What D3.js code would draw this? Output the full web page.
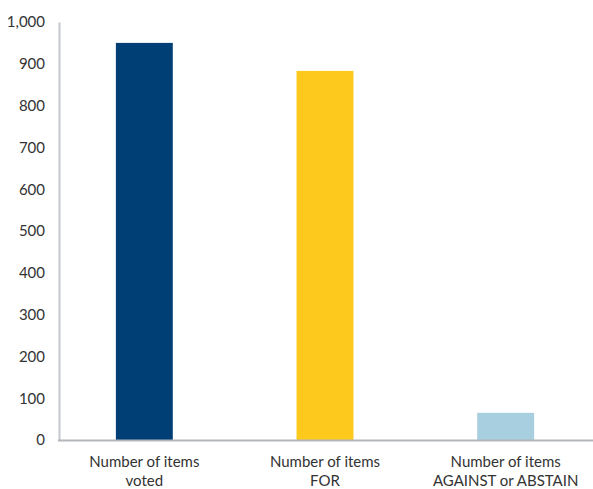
<!DOCTYPE html>
<html>
<head>
<meta charset="utf-8">
<script src="https://cdn.jsdelivr.net/npm/d3@7"></script>
<style>
  body { margin: 0; background: #fff; }
  text { font-family: Lato, "Open Sans", sans-serif; fill: #333; }
</style>
</head>
<body>
<svg width="593" height="489"></svg>
<script>
var categories = ["voted", "FOR", "AGAINST or ABSTAIN"];
var values = [950, 883, 65];
var colors = ["#003f76", "#fdc91c", "#a8cfdf"];
var yTicks = [0, 100, 200, 300, 400, 500, 600, 700, 800, 900, 1000];

var svg = d3.select("svg");

var x = d3.scaleBand()
    .domain(categories)
    .range([54, 596])
    .paddingInner(0.685)
    .paddingOuter(0.3425);

var y = d3.scaleLinear()
    .domain([0, 1000])
    .range([440, 22]);

// y axis
var yAxis = svg.append("g")
    .attr("transform", "translate(59,0)")
    .call(d3.axisLeft(y).tickValues(yTicks).tickSize(0).tickPadding(14).tickFormat(d3.format(",")));
yAxis.select(".domain").attr("stroke", "#c4c7cb").attr("stroke-width", 2);
yAxis.selectAll("text").style("font-size", "15px");

// bars
svg.append("g")
    .selectAll("rect")
    .data(categories)
    .enter()
    .append("rect")
    .attr("x", function(d) { return x(d); })
    .attr("y", function(d, i) { return y(values[i]); })
    .attr("width", x.bandwidth())
    .attr("height", function(d, i) { return y(0) - y(values[i]); })
    .style("fill", function(d, i) { return colors[i]; });

// x axis line
svg.append("line")
    .attr("x1", 58).attr("x2", 593)
    .attr("y1", y(0) + 0.5).attr("y2", y(0) + 0.5)
    .attr("stroke", "#b3b6ba")
    .attr("stroke-width", 2);

// x labels
var lab = svg.append("g")
    .selectAll("text")
    .data(categories)
    .enter()
    .append("text")
    .attr("text-anchor", "middle")
    .style("font-size", "15px")
    .attr("transform", function(d) { return "translate(" + (x(d) + x.bandwidth() / 2) + ",0)"; });
lab.append("tspan").attr("x", 0).attr("y", 467).text("Number of items");
lab.append("tspan").attr("x", 0).attr("y", 486).text(function(d) { return d; });
</script>
</body>
</html>
